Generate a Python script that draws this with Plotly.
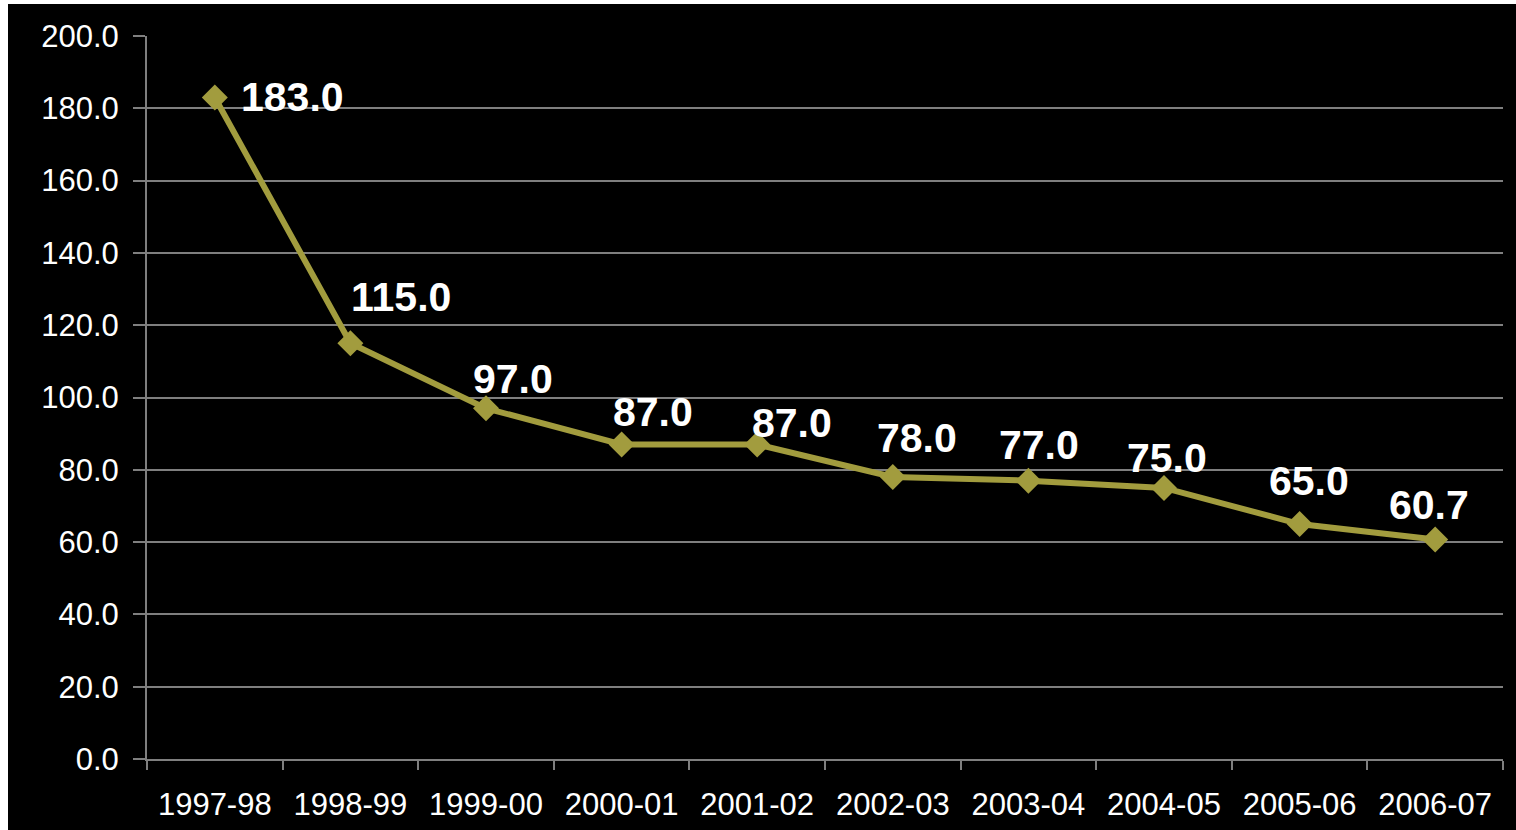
import plotly.graph_objects as go

years = ["1997-98", "1998-99", "1999-00", "2000-01", "2001-02",
         "2002-03", "2003-04", "2004-05", "2005-06", "2006-07"]
values = [183.0, 115.0, 97.0, 87.0, 87.0, 78.0, 77.0, 75.0, 65.0, 60.7]
y_ticks = [0, 20, 40, 60, 80, 100, 120, 140, 160, 180, 200]

# label offsets (pixels) relative to each point: style only
label_dx = [78, 51, 27, 31, 35, 24, 11, 3, 9, -6]
label_dy = [0, 46, 29, 33, 22, 39, 36, 30, 43, 35]

W, H = 1516, 830
ML, MR, MT, MB = 147, 13, 36, 71
pw, ph = W - ML - MR, H - MT - MB

line_col = "#a29c3e"
grid_col = "#7f7f7f"
font_fam = "Liberation Sans, Arial, sans-serif"

fig = go.Figure()
fig.add_trace(go.Scatter(
    x=years, y=values, mode="lines+markers",
    line=dict(color=line_col, width=6),
    marker=dict(symbol="diamond", size=20, color=line_col),
    hoverinfo="skip", showlegend=False,
))

for i, (cat, v) in enumerate(zip(years, values)):
    fig.add_annotation(
        x=cat, y=v, text=f"{v:.1f}", showarrow=False,
        xshift=label_dx[i], yshift=label_dy[i],
        font=dict(family=font_fam, size=41, color="white", weight="bold"),
    )

# black chart background with a thin white border on top/left like the reference
fig.add_shape(
    type="rect", xref="paper", yref="paper", layer="below",
    x0=(8 - ML) / pw, x1=(W + 20 - ML) / pw,
    y0=-(MB + 20) / ph, y1=1 + (MT - 4) / ph,
    fillcolor="black", line=dict(width=0),
)

fig.update_layout(
    width=W, height=H,
    margin=dict(l=ML, r=MR, t=MT, b=MB, pad=0),
    paper_bgcolor="white", plot_bgcolor="black",
    font=dict(family=font_fam, color="white"),
    xaxis=dict(
        type="category", range=[-0.5, len(years) - 0.5], automargin=False,
        showgrid=False, showline=True, linecolor=grid_col, linewidth=2,
        ticks="outside", tickson="boundaries", ticklen=9, tickwidth=2, tickcolor=grid_col,
        ticklabelstandoff=17,
        tickfont=dict(size=31, color="white", family=font_fam),
        zeroline=False,
    ),
    yaxis=dict(
        range=[0, 200], tickvals=y_ticks, ticktext=[f"{t:.1f}" for t in y_ticks],
        automargin=False,
        showgrid=True, gridcolor=grid_col, gridwidth=2,
        showline=True, linecolor=grid_col, linewidth=2,
        ticks="outside", ticklen=12, tickwidth=2, tickcolor=grid_col,
        ticklabelstandoff=8,
        tickfont=dict(size=31, color="white", family=font_fam),
        zeroline=False,
    ),
)

fig.write_html("out.html")
